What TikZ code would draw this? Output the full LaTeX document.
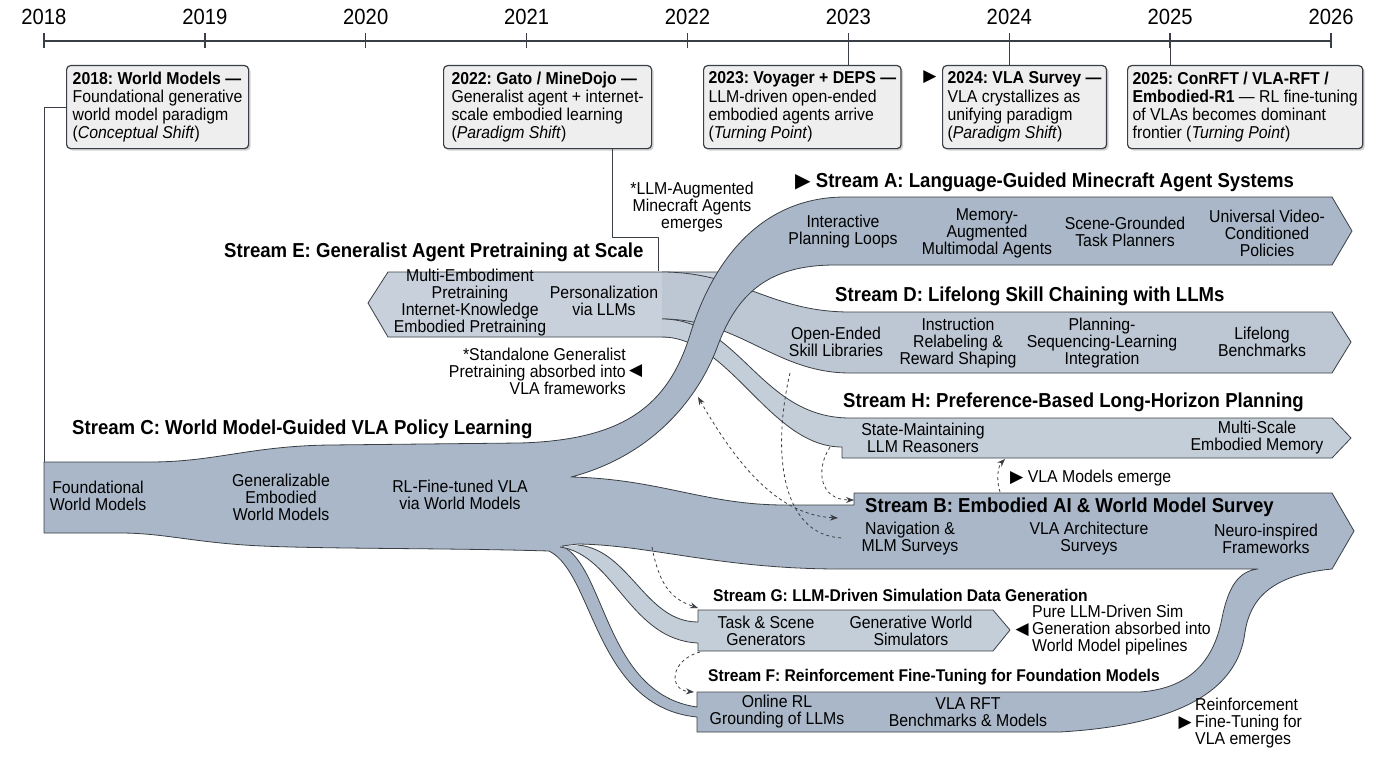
\documentclass[tikz,border=0pt]{standalone}
\usepackage{fontspec}
\setmainfont{Liberation Sans}[FakeStretch=0.92]
\newfontfamily\symfont{DejaVu Sans}
\frenchspacing
\usetikzlibrary{arrows.meta,positioning,shadows}

\definecolor{InkGray}{HTML}{3A3F45}
\definecolor{FlowMain}{HTML}{A9B7C8}
\definecolor{FlowLight}{HTML}{C8D1DB}
\definecolor{FlowMid}{HTML}{BCC7D3}
\definecolor{FlowPale}{HTML}{C4CED9}
\definecolor{BoxFill}{HTML}{EEEEEE}

\newcommand\itemfont{\fontsize{17.2}{17}\selectfont}
\newcommand\boxfont{\fontsize{17.2}{18.3}\selectfont}
\newcommand\headfont{\fontsize{20.2}{21}\selectfont\bfseries}
\newcommand\subhdfont{\fontsize{17}{18}\selectfont\bfseries}
\newcommand\yearfont{\fontsize{22}{22}\selectfont}

\tikzset{
  % Milestone callout
  callout/.style={
    rectangle, rounded corners=4pt,
    draw=InkGray, line width=1.2pt, fill=BoxFill,
    drop shadow={opacity=0.35, shadow xshift=2pt, shadow yshift=-2pt},
    align=left, font=\boxfont, anchor=north west,
    inner xsep=5pt, inner ysep=4pt, minimum height=83pt
  },
  % Flow outline
  band/.style={draw=InkGray, line width=0.8pt},
  % Labels on the flows
  flowlbl/.style={align=center, font=\itemfont, inner sep=0pt},
  % Stream titles
  streamhd/.style={font=\headfont, inner sep=0pt, anchor=west},
  substreamhd/.style={font=\subhdfont, inner sep=0pt, anchor=west},
  % Side notes
  note/.style={font=\itemfont, inner sep=0pt},
  % Thin leader lines
  leader/.style={draw=InkGray, line width=1pt},
  % Dashed cross links
  dashlink/.style={dashed, line width=0.8pt, draw=InkGray,
    -{Stealth[length=8pt,width=6pt]}}
}

\begin{document}
\begin{tikzpicture}[x=1pt, y=-1pt, line join=round]
  \useasboundingbox (0,0) rectangle (1376,768);

  % Time axis
  \draw[InkGray, line width=1.5pt] (44,41) -- (1331,41);
  \foreach \yr [count=\i from 0] in {2018,...,2026} {
    \coordinate (t\yr) at (44+\i*160.875,41);
    \draw[InkGray, line width=1.3pt] (t\yr) ++(0,-8) -- ++(0,15);
    \node[font=\yearfont, inner sep=0pt] (y\yr) at (44+\i*160.875,17) {\yr};
  }

  % Lower streams E, D, H (drawn first, ribbon A passes over them)
  \fill[FlowLight] (720,272) -- (388,272) -- (368,303) -- (388,337) -- (720,337) -- cycle;
  \draw[band] (720,272) -- (388,272) -- (368,303) -- (388,337) -- (720,337);
  \fill[FlowMid] (662,272) .. controls (740,272) and (770,312) .. (850,312) -- (1332,312)
    -- (1351,342) -- (1332,373) -- (850,373) .. controls (775,373) and (740,319) .. (662,319) -- cycle;
  \draw[band] (662,272) .. controls (740,272) and (770,312) .. (850,312) -- (1332,312)
    -- (1351,342) -- (1332,373) -- (850,373) .. controls (775,373) and (740,319) .. (662,319);
  \fill[FlowPale] (662,319) .. controls (740,319) and (760,418) .. (850,418) -- (1332,418)
    -- (1351,438) -- (1332,458) -- (842,458) -- (842,447) .. controls (770,447) and (730,337) .. (662,337) -- cycle;
  \draw[band] (662,319) .. controls (740,319) and (760,418) .. (850,418) -- (1332,418)
    -- (1351,438) -- (1332,458) -- (842,458) -- (842,447) .. controls (770,447) and (730,337) .. (662,337);

  % Main flow: C splitting into A and B, F merging back into B
  \path[band, fill=FlowMain]
    (44,462) -- (150,462) .. controls (215,462) and (250,446) .. (330,445) -- (520,443)
    .. controls (625,440) and (668,405) .. (690,335) .. controls (712,262) and (760,197) .. (845,197)
    -- (1332,197) -- (1352,231) -- (1332,265) -- (835,265)
    .. controls (770,265) and (738,292) .. (718,345) .. controls (700,395) and (655,455) .. (571,477)
    .. controls (660,479) and (705,505) .. (785,505) -- (854,505) -- (854,493) -- (1332,493)
    -- (1354,531) -- (1332,569) .. controls (1270,575) and (1250,600) .. (1245,632)
    .. controls (1238,690) and (1180,725) .. (1060,732) -- (697,732) -- (697,717)
    .. controls (595,707) and (594,573) .. (549,551) .. controls (450,548) and (330,549) .. (262,546)
    .. controls (195,543) and (165,533) .. (120,533) -- (44,533) -- cycle;
  \path[band, fill=white]
    (562,546) .. controls (606,567) and (605,694) .. (697,707) -- (697,692) -- (1140,692)
    .. controls (1195,688) and (1215,655) .. (1222,618) .. controls (1228,588) and (1238,571) .. (1258,569)
    -- (840,569) .. controls (720,569) and (650,545) .. (578,544) -- cycle;

  % Stream G branch
  \fill[FlowPale] (560,547) .. controls (615,555) and (630,640) .. (698,643) -- (698,651) -- (993,651)
    -- (1010,630) -- (993,610) -- (698,610) -- (698,622) .. controls (645,622) and (630,550) .. (578,545) -- cycle;
  \draw[band] (560,547) .. controls (615,555) and (630,640) .. (698,643) -- (698,651) -- (993,651)
    -- (1010,630) -- (993,610) -- (698,610) -- (698,622) .. controls (645,622) and (630,550) .. (578,545);

  % Milestone callouts
  \node[callout, minimum width=182pt] (box1) at (66,65)
    {\textbf{2018: World Models —}\\Foundational generative\\world model paradigm\\(\textit{Conceptual Shift})};
  \node[callout, minimum width=208pt] (box2) at (443,65)
    {\textbf{2022: Gato / MineDojo —}\\Generalist agent + internet-\\scale embodied learning\\(\textit{Paradigm Shift})};
  \node[callout, minimum width=196pt] (box3) at (703,65)
    {\textbf{2023: Voyager + DEPS —}\\LLM-driven open-ended\\embodied agents arrive\\(\textit{Turning Point})};
  \node[callout, minimum width=159pt] (box4) at (942,65)
    {\textbf{2024: VLA Survey —}\\VLA crystallizes as\\unifying paradigm\\(\textit{Paradigm Shift})};
  \node[callout, minimum width=228pt] (box5) at (1127,65)
    {\textbf{2025: ConRFT / VLA-RFT /}\\\textbf{Embodied-R1} — RL fine-tuning\\of VLAs becomes dominant\\frontier (\textit{Turning Point})};
  \node[font=\symfont\fontsize{17}{17}\selectfont, inner sep=0pt] (mark4) at (930,77) {▶};

  % Leaders from callouts
  \coordinate (cTop) at (44,462);
  \coordinate (eJoin) at (612,237);
  \coordinate (eTop) at (658,271);
  \draw[leader] (box1.west) -| (cTop);
  \draw[leader] (box2.south -| eJoin) -- (eJoin) -| (eTop);
  \draw[leader] (t2023) -- (box3.north -| t2023);
  \draw[leader] (t2024) -- (box4.north -| t2024);
  \draw[leader] (t2025) -- (box5.north -| t2025);

  % Stream titles
  \node[streamhd] (hdA) at (795,182) {{\symfont ▶} Stream A: Language-Guided Minecraft Agent Systems};
  \node[streamhd] (hdE) at (224,252) {Stream E: Generalist Agent Pretraining at Scale};
  \node[streamhd] (hdD) at (835,296) {Stream D: Lifelong Skill Chaining with LLMs};
  \node[streamhd] (hdH) at (843,402) {Stream H: Preference-Based Long-Horizon Planning};
  \node[streamhd] (hdC) at (72,429) {Stream C: World Model-Guided VLA Policy Learning};
  \node[streamhd] (hdB) at (865,507) {Stream B: Embodied AI \& World Model Survey};
  \node[substreamhd] (hdG) at (713,595) {Stream G: LLM-Driven Simulation Data Generation};
  \node[substreamhd] (hdF) at (708,677) {Stream F: Reinforcement Fine-Tuning for Foundation Models};

  % Stream A items
  \node[flowlbl] (a1) at (843,232) {Interactive\\Planning Loops};
  \node[flowlbl] (a2) at (987,233) {Memory-\\Augmented\\Multimodal Agents};
  \node[flowlbl] (a3) at (1125,232) {Scene-Grounded\\Task Planners};
  \node[flowlbl] (a4) at (1267,233) {Universal Video-\\Conditioned\\Policies};
  % Stream D items
  \node[flowlbl] (d1) at (836,342) {Open-Ended\\Skill Libraries};
  \node[flowlbl] (d2) at (958,343) {Instruction\\Relabeling \&\\Reward Shaping};
  \node[flowlbl] (d3) at (1102,343) {Planning-\\Sequencing-Learning\\Integration};
  \node[flowlbl] (d4) at (1262,342) {Lifelong\\Benchmarks};
  % Stream H items
  \node[flowlbl] (h1) at (923,438) {State-Maintaining\\LLM Reasoners};
  \node[flowlbl] (h2) at (1257,438) {Multi-Scale\\Embodied Memory};
  % Stream E items
  \node[flowlbl] (e1) at (470,303) {Multi-Embodiment\\Pretraining\\Internet-Knowledge\\Embodied Pretraining};
  \node[flowlbl] (e2) at (604,301) {Personalization\\via LLMs};
  % Stream C items
  \node[flowlbl] (c1) at (98,496) {Foundational\\World Models};
  \node[flowlbl] (c2) at (281,497) {Generalizable\\Embodied\\World Models};
  \node[flowlbl] (c3) at (460,495) {RL-Fine-tuned VLA\\via World Models};
  % Stream B items
  \node[flowlbl] (b1) at (910,539) {Navigation \&\\MLM Surveys};
  \node[flowlbl] (b2) at (1089,539) {VLA Architecture\\Surveys};
  \node[flowlbl] (b3) at (1266,539) {Neuro-inspired\\Frameworks};
  % Stream G items
  \node[flowlbl] (g1) at (766,631) {Task \& Scene\\Generators};
  \node[flowlbl] (g2) at (911,631) {Generative World\\Simulators};
  % Stream F items
  \node[flowlbl] (f1) at (777,712) {Online RL\\Grounding of LLMs};
  \node[flowlbl] (f2) at (968,712) {VLA RFT\\Benchmarks \& Models};

  % Side notes
  \node[note, align=center] (nMine) at (692,207) {*LLM-Augmented\\Minecraft Agents\\emerges};
  \node[note, align=right, anchor=east] (nStand) at (626,371)
    {*Standalone Generalist\\Pretraining absorbed into\\VLA frameworks};
  \node[font=\symfont\fontsize{17}{17}\selectfont, inner sep=0pt, right=3pt of nStand] (mStand) {◀};
  \node[note, anchor=west] (nVla) at (1010,478) {{\symfont ▶} VLA Models emerge};
  \node[note, align=left, anchor=west] (nSim) at (1032,630)
    {Pure LLM-Driven Sim\\Generation absorbed into\\World Model pipelines};
  \node[font=\symfont\fontsize{17}{17}\selectfont, inner sep=0pt, left=3pt of nSim] (mSim) {◀};
  \node[note, align=left, anchor=west] (nRft) at (1195,723)
    {Reinforcement\\Fine-Tuning for\\VLA emerges};
  \node[font=\symfont\fontsize{17}{17}\selectfont, inner sep=0pt, left=3pt of nRft] (mRft) {▶};

  % Dashed cross links
  \coordinate (kA1) at (698,397);  \coordinate (kB1) at (838,518);
  \coordinate (kD1) at (790,373);  \coordinate (kB2) at (842,538);
  \coordinate (kH1) at (830,447);  \coordinate (kB3) at (854,500);
  \coordinate (kB4) at (1000,492); \coordinate (kH2) at (1005,459);
  \coordinate (kC1) at (652,547);  \coordinate (kG1) at (698,608);
  \coordinate (kG2) at (700,652);  \coordinate (kF1) at (694,692);
  \draw[dashlink, {Stealth[length=8pt,width=6pt]}-{Stealth[length=8pt,width=6pt]}]
    (kA1) .. controls (740,470) and (780,515) .. (kB1);
  \draw[dashlink, -] (kD1) .. controls (772,450) and (780,535) .. (kB2);
  \draw[dashlink] (kH1) .. controls (815,470) and (820,500) .. (kB3);
  \draw[dashlink] (kB4) .. controls (996,480) and (998,466) .. (kH2);
  \draw[dashlink] (kC1) .. controls (660,590) and (675,600) .. (kG1);
  \draw[dashlink] (kG2) .. controls (670,660) and (668,690) .. (kF1);
\end{tikzpicture}
\end{document}
